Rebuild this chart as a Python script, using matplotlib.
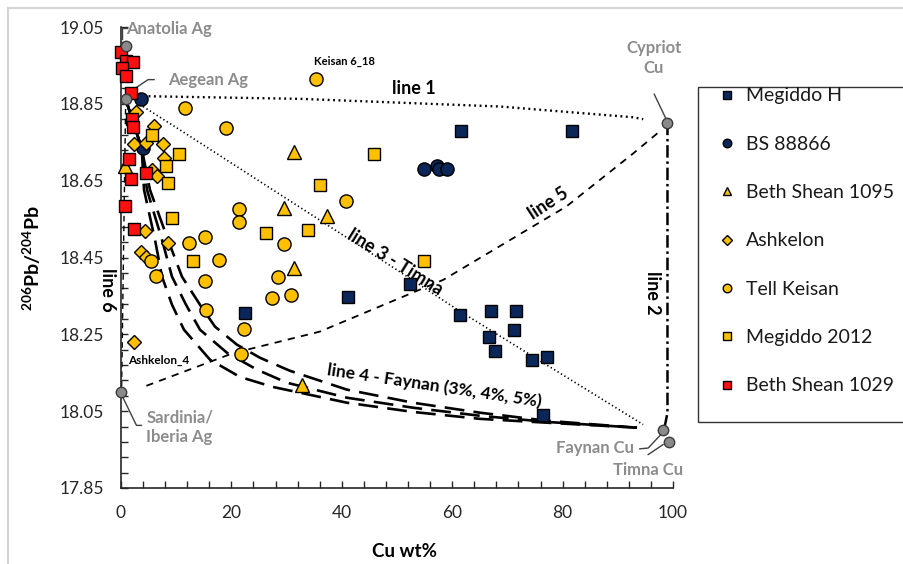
import matplotlib
matplotlib.use('Agg')
import numpy as np
import matplotlib.pyplot as plt
from matplotlib.patches import Rectangle
from matplotlib.ticker import FixedLocator, MultipleLocator, FormatStrFormatter

plt.rcParams['font.family'] = ['Lato', 'DejaVu Sans']
plt.rcParams['mathtext.fontset'] = 'custom'
plt.rcParams['mathtext.rm'] = 'Lato'
plt.rcParams['mathtext.bf'] = 'Lato:bold'

# ---------------- data ----------------
megiddo_h_x = [61.6, 81.7, 41.1, 52.4, 61.4, 67.0, 71.5, 71.2, 66.7, 67.8, 74.5, 77.1, 76.4, 22.5]
megiddo_h_y = [18.778, 18.780, 18.348, 18.381, 18.301, 18.311, 18.311, 18.262, 18.242, 18.207, 18.184, 18.191, 18.039, 18.305]

bs88866_x = [3.6, 3.9, 54.9, 57.2, 57.6, 59.0]
bs88866_y = [18.862, 18.734, 18.680, 18.688, 18.680, 18.680]

bs1095_x = [0.7, 31.4, 29.5, 37.3, 31.3, 32.7]
bs1095_y = [18.687, 18.725, 18.578, 18.557, 18.423, 18.119]

ashkelon_x = [2.8, 5.9, 2.4, 4.6, 7.6, 7.8, 5.6, 6.5, 4.3, 8.6, 3.7, 4.5, 2.4]
ashkelon_y = [18.828, 18.793, 18.746, 18.749, 18.746, 18.708, 18.678, 18.661, 18.520, 18.489, 18.465, 18.452, 18.229]

keisan_x = [35.4, 11.6, 19.0, 40.7, 21.3, 21.3, 12.3, 15.2, 29.5, 17.8, 5.5, 6.3, 15.2, 28.4, 27.4, 30.8, 15.4, 22.2, 21.7]
keisan_y = [18.914, 18.838, 18.787, 18.598, 18.577, 18.542, 18.489, 18.503, 18.485, 18.443, 18.442, 18.401, 18.389, 18.400, 18.344, 18.353, 18.313, 18.264, 18.199]

megiddo2012_x = [5.6, 10.5, 8.1, 8.6, 9.2, 13.0, 26.2, 33.8, 36.0, 45.9, 54.9]
megiddo2012_y = [18.769, 18.720, 18.688, 18.643, 18.553, 18.440, 18.515, 18.522, 18.640, 18.719, 18.440]

bs1029_x = [0.0, 0.9, 2.2, 0.2, 0.9, 1.8, 2.0, 2.2, 1.5, 4.5, 1.9, 0.7, 2.4]
bs1029_y = [18.984, 18.962, 18.959, 18.944, 18.923, 18.877, 18.810, 18.790, 18.706, 18.671, 18.654, 18.584, 18.524]

# end members
end_names = ['Anatolia Ag', 'Aegean Ag', 'Sardinia/\nIberia Ag', 'Cypriot\nCu', 'Faynan Cu', 'Timna Cu']
end_x = [0.85, 0.85, 0.0, 99.0, 98.2, 99.2]
end_y = [19.001, 18.862, 18.100, 18.801, 18.002, 17.971]

# mixing lines
line1_x = [4.0, 32.4, 68.7, 92.8, 94.6]
line1_y = [18.870, 18.863, 18.843, 18.815, 18.810]
line2_x = [99.0, 99.0, 98.5]
line2_y = [18.801, 18.046, 18.010]
line3_x = [4.0, 10.7, 50.5, 61.4, 94.6]
line3_y = [18.843, 18.782, 18.413, 18.310, 18.015]
line5_x = [4.6, 20.3, 36.0, 58.4, 80.7, 92.8, 97.9]
line5_y = [18.116, 18.201, 18.257, 18.392, 18.583, 18.721, 18.782]
line6_x = [0.85, 0.1]
line6_y = [18.862, 18.100]
line4a_x = [0.85, 3.75, 5.25, 8.51, 11.05, 14.31, 17.03, 21.01, 25.18, 30.62, 40.94, 52.9, 65.04, 77.17, 93.48]
line4a_y = [18.862, 18.734, 18.626, 18.496, 18.400, 18.327, 18.270, 18.223, 18.189, 18.155, 18.106, 18.072, 18.046, 18.025, 18.007]
line4b_x = [0.85, 3.75, 4.71, 7.43, 9.24, 11.78, 14.31, 19.2, 24.64, 30.07, 40.94, 52.9, 65.04, 77.17, 93.48]
line4b_y = [18.862, 18.734, 18.626, 18.496, 18.400, 18.327, 18.262, 18.202, 18.158, 18.124, 18.085, 18.059, 18.038, 18.022, 18.007]
line4c_x = [0.85, 3.75, 4.17, 6.16, 7.43, 9.24, 11.41, 16.12, 21.56, 27.54, 40.94, 52.9, 65.04, 77.17, 93.48]
line4c_y = [18.862, 18.734, 18.626, 18.496, 18.400, 18.327, 18.262, 18.184, 18.139, 18.113, 18.072, 18.048, 18.030, 18.020, 18.007]

y_ticks = [17.85, 18.05, 18.25, 18.45, 18.65, 18.85, 19.05]

# ---------------- figure ----------------
W, H = 904, 564
fig = plt.figure(figsize=(W / 100, H / 100), dpi=100)
ax = fig.add_axes([121 / W, 76 / H, 552 / W, 461 / H])
ax.set_xlim(0, 100)
ax.set_ylim(17.85, 19.05)

# outer border of the picture
fig.add_artist(Rectangle((8 / W, -0.05), 1.2, 1.05 - 8 / H, transform=fig.transFigure,
                         fill=False, edgecolor='#d4d4d4', lw=1.5, clip_on=False))

navy = '#0b2759'
gold = '#FFC000'
red = '#FF1010'
grey_txt = '#8c8c8c'

# lines
ax.plot(line1_x, line1_y, color='black', lw=1.7, ls=(0, (0.8, 1.5)), zorder=2)
ax.plot(line3_x, line3_y, color='black', lw=1.2, ls=(0, (0.8, 1.6)), zorder=2)
ax.plot(line5_x, line5_y, color='black', lw=1.3, ls=(0, (4, 3.5)), zorder=2)
ax.plot(line2_x, line2_y, color='black', lw=1.8, ls=(0, (5, 1.5, 1, 1.5)), zorder=2)
ax.plot(line6_x, line6_y, color='black', lw=1.0, ls=(0, (4, 3)), zorder=2, clip_on=False)
for lx, ly in [(line4a_x, line4a_y), (line4b_x, line4b_y), (line4c_x, line4c_y)]:
    ax.plot(lx, ly, color='black', lw=1.9, ls=(0, (7.5, 3.5)), zorder=2)

# data series
mk = dict(ls='none', mec='black', mew=1.0, zorder=5, clip_on=False)
ax.plot(megiddo_h_x, megiddo_h_y, marker='s', ms=8.5, mfc=navy, label='Megiddo H', **mk)
ax.plot(bs88866_x, bs88866_y, marker='o', ms=9.5, mfc=navy, label='BS 88866', **mk)
ax.plot(bs1095_x, bs1095_y, marker='^', ms=9.5, mfc=gold, label='Beth Shean 1095', **mk)
ax.plot(ashkelon_x, ashkelon_y, marker='D', ms=7.2, mfc=gold, label='Ashkelon', **mk)
ax.plot(keisan_x, keisan_y, marker='o', ms=9.5, mfc=gold, label='Tell Keisan', **mk)
ax.plot(megiddo2012_x, megiddo2012_y, marker='s', ms=8.5, mfc=gold, label='Megiddo 2012', **mk)
ax.plot(bs1029_x, bs1029_y, marker='s', ms=8.5, mfc=red, label='Beth Shean 1029', **mk)

# end members
ax.plot(end_x, end_y, ls='none', marker='o', ms=7.5, mfc='#8a8a8a', mec='#3a3a3a', mew=1.0,
        zorder=6, clip_on=False)

# end-member labels and leaders
lead = dict(color='#404040', lw=1.0, zorder=4, clip_on=False)
ax.plot([0.2, 0.2, 1.0], [19.02, 19.048, 19.048], **lead)
ax.text(0.9, 19.044, end_names[0], color=grey_txt, fontsize=12, fontweight='bold', ha='left', va='center')
ax.plot([1.9, 4.9, 6.0], [18.884, 18.913, 18.913], **lead)
ax.text(8.5, 18.912, end_names[1], color=grey_txt, fontsize=12, fontweight='bold', ha='left', va='center')
ax.plot([0.1, 2.8, 3.7], [18.093, 18.013, 18.013], **lead)
ax.text(4.6, 18.009, end_names[2], color=grey_txt, fontsize=12, fontweight='bold', ha='left', va='center',
        linespacing=1.25)
ax.plot([96.6, 98.7], [18.875, 18.812], **lead)
ax.text(96.5, 18.969, end_names[3], color=grey_txt, fontsize=12, fontweight='bold', ha='center', va='center',
        linespacing=1.25)
ax.plot([94.0, 95.5, 97.8], [17.952, 17.954, 17.989], **lead)
ax.text(93.0, 17.954, end_names[4], color=grey_txt, fontsize=12, fontweight='bold', ha='right', va='center')
ax.plot([95.5, 98.2], [17.937, 17.963], **lead)
ax.text(101.9, 17.897, end_names[5], color=grey_txt, fontsize=12, fontweight='bold', ha='right', va='center',
        clip_on=False)

# line labels
ax.text(53.0, 18.890, 'line 1', fontsize=13, fontweight='bold', ha='center', va='center')
ax.text(96.2, 18.358, 'line 2', fontsize=13, fontweight='bold', ha='center', va='center', rotation=-90)
ax.text(49.6, 18.439, 'line 3 - Timna', fontsize=13, fontweight='bold', ha='center', va='center', rotation=-32)
ax.text(56.7, 18.116, 'line 4 - Faynan (3%, 4%, 5%)', fontsize=12.5, fontweight='bold', ha='center',
        va='center', rotation=-8.5)
ax.text(77.5, 18.590, 'line 5', fontsize=13, fontweight='bold', ha='center', va='center', rotation=33)
ax.text(-2.5, 18.366, 'line 6', fontsize=13, fontweight='bold', ha='center', va='center', rotation=-90,
        clip_on=False)
ax.text(34.9, 18.960, 'Keisan 6_18', fontsize=8, fontweight='bold', ha='left', va='center')
ax.text(1.3, 18.182, 'Ashkelon_4', fontsize=8.5, fontweight='bold', ha='left', va='center')

# axes styling
for s in ['top', 'right']:
    ax.spines[s].set_visible(False)
for s in ['left', 'bottom']:
    ax.spines[s].set_color('#262626')
    ax.spines[s].set_linewidth(1.2)
ax.xaxis.set_major_locator(MultipleLocator(20))
ax.xaxis.set_minor_locator(MultipleLocator(4))
ax.yaxis.set_major_locator(FixedLocator(y_ticks))
ax.yaxis.set_minor_locator(FixedLocator(np.arange(17.85, 19.0501, 0.04)))
ax.yaxis.set_major_formatter(FormatStrFormatter('%.2f'))
ax.tick_params(which='both', direction='in', length=5, width=1.0, color='#262626')
ax.tick_params(axis='both', which='major', labelsize=12.5, labelcolor='#262626', pad=12)

ax.set_xlabel('Cu wt%', fontsize=13.5, fontweight='bold')
ax.xaxis.set_label_coords((405 - 121) / 552, -0.119)
ax.set_ylabel(r'$\mathbf{^{206}Pb/^{204}Pb}$', fontsize=14)
ax.yaxis.set_label_coords((43 - 121) / 552, 0.499)

# legend
fig.add_artist(Rectangle((698 / W, 1 - 421.7 / H), 0.4, (421.7 - 87.3) / H, transform=fig.transFigure,
                         fill=False, edgecolor='#333333', lw=1.0, clip_on=False))
leg = fig.legend(loc='upper left', bbox_to_anchor=(717 / W, 1 - 87.5 / H), frameon=False,
                 fontsize=14, markerscale=0.65, handlelength=1.0, handletextpad=0.49,
                 labelspacing=1.61, borderpad=0, borderaxespad=0)
for t in leg.get_texts():
    t.set_color('#1a1a1a')

fig.savefig('out.png', dpi=100)
